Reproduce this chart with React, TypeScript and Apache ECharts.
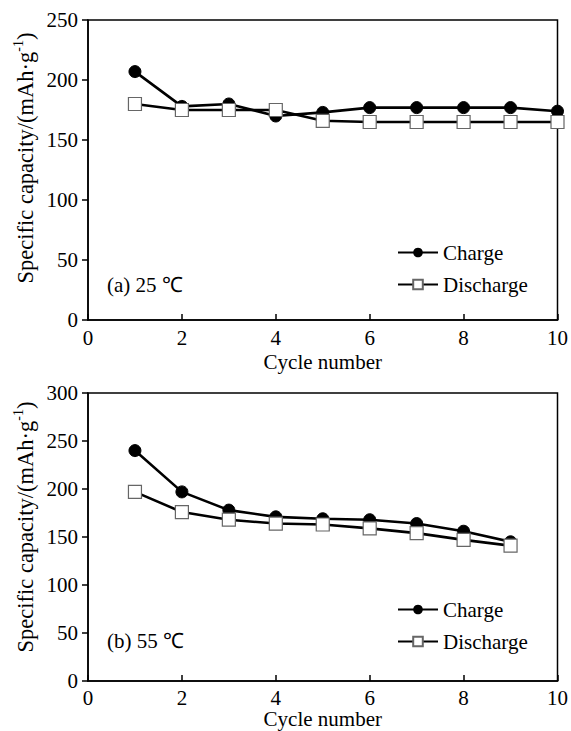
import React, { useEffect, useRef } from "react";
import * as echarts from "echarts";

const cyclesA = [1, 2, 3, 4, 5, 6, 7, 8, 9, 10];
const chargeA = [207, 178, 180, 170, 173, 177, 177, 177, 177, 174];
const dischargeA = [180, 175, 175, 175, 166, 165, 165, 165, 165, 165];

const cyclesB = [1, 2, 3, 4, 5, 6, 7, 8, 9];
const chargeB = [240, 197, 178, 171, 169, 168, 164, 156, 145];
const dischargeB = [197, 176, 168, 164, 163, 159, 154, 147, 141];

const yTitle = "{a|Specific capacity/(mAh·g}{sup|-1}{a|)}";
const xTitle = "Cycle number";
const labelA = "(a) 25 ℃";
const labelB = "(b) 55 ℃";

const FONT = "Liberation Serif";

export default function App() {
  const ref = useRef<HTMLDivElement>(null);
  useEffect(() => {
    if (!ref.current) return;
    const chart = echarts.init(ref.current, null, { renderer: "svg" });
    const xAxisCommon = (gridIndex: number) => ({
      type: "value",
      gridIndex,
      min: 0,
      max: 10,
      interval: 2,
      name: xTitle,
      nameLocation: "middle",
      nameGap: gridIndex === 0 ? 31 : 27,
      nameTextStyle: { color: "#000", fontFamily: FONT, fontSize: 21 },
      axisLine: { show: true, lineStyle: { color: "#000", width: 1.5 } },
      axisTick: { show: true, inside: true, length: 6, lineStyle: { color: "#000", width: 1.5 } },
      axisLabel: { color: "#000", fontFamily: FONT, fontSize: 21, margin: gridIndex === 0 ? 7 : 6 },
      splitLine: { show: false },
    });
    const yAxisCommon = (gridIndex: number, max: number) => ({
      type: "value",
      gridIndex,
      min: 0,
      max,
      interval: 50,
      axisLine: { show: true, lineStyle: { color: "#000", width: 1.5 } },
      axisTick: { show: true, inside: false, length: 6, lineStyle: { color: "#000", width: 1.5 } },
      axisLabel: { color: "#000", fontFamily: FONT, fontSize: 21, margin: 10 },
      splitLine: { show: false },
    });
    const chargeStyle = {
      type: "line",
      name: "Charge",
      symbol: "circle",
      symbolSize: 12,
      itemStyle: { color: "#000", borderColor: "#000" },
      lineStyle: { color: "#000", width: 2.6 },
    };
    const dischargeStyle = {
      type: "line",
      name: "Discharge",
      symbol: "rect",
      symbolSize: 13,
      itemStyle: { color: "#fff", borderColor: "#666", borderWidth: 1.2 },
      lineStyle: { color: "#000", width: 2.6 },
    };
    const legendCommon = (top: number) => ({
      orient: "vertical",
      left: 392,
      top,
      itemWidth: 40,
      itemHeight: 12,
      itemGap: 11,
      data: ["Charge", "Discharge"],
      textStyle: { color: "#000", fontFamily: FONT, fontSize: 21 },
    });
    const yTitleGraphic = (cy: number) => ({
      type: "text",
      x: 24,
      y: cy,
      rotation: Math.PI / 2,
      style: {
        text: yTitle,
        align: "center",
        verticalAlign: "middle",
        fill: "#000",
        fontFamily: FONT,
        rich: {
          a: { fontSize: 22.5, fontFamily: FONT, fill: "#000", lineHeight: 26, verticalAlign: "bottom" },
          sup: { fontSize: 14, fontFamily: FONT, fill: "#000", lineHeight: 26, verticalAlign: "top" },
        },
      },
    });
    chart.setOption({
      animation: false,
      backgroundColor: "#fff",
      grid: [
        { left: 88, right: 13, top: 20, height: 300, show: true, borderColor: "#000", borderWidth: 1.5, backgroundColor: "transparent" },
        { left: 88, right: 13, top: 393, height: 288, show: true, borderColor: "#000", borderWidth: 1.5, backgroundColor: "transparent" },
      ],
      xAxis: [xAxisCommon(0), xAxisCommon(1)],
      yAxis: [yAxisCommon(0, 250), yAxisCommon(1, 300)],
      legend: [legendCommon(237), legendCommon(594)],
      series: [
        { ...chargeStyle, xAxisIndex: 0, yAxisIndex: 0, data: cyclesA.map((c, i) => [c, chargeA[i]]) },
        { ...dischargeStyle, xAxisIndex: 0, yAxisIndex: 0, data: cyclesA.map((c, i) => [c, dischargeA[i]]) },
        { ...chargeStyle, xAxisIndex: 1, yAxisIndex: 1, data: cyclesB.map((c, i) => [c, chargeB[i]]) },
        { ...dischargeStyle, xAxisIndex: 1, yAxisIndex: 1, data: cyclesB.map((c, i) => [c, dischargeB[i]]) },
      ],
      graphic: [
        yTitleGraphic(158),
        yTitleGraphic(527),
        { type: "text", left: 107, top: 274, style: { text: labelA, fill: "#000", fontFamily: FONT, fontSize: 21 } },
        { type: "text", left: 107, top: 630, style: { text: labelB, fill: "#000", fontFamily: FONT, fontSize: 21 } },
      ],
    });
    return () => chart.dispose();
  }, []);
  return <div ref={ref} style={{ position: "fixed", left: 0, top: 0, width: 571, height: 731 }} />;
}
